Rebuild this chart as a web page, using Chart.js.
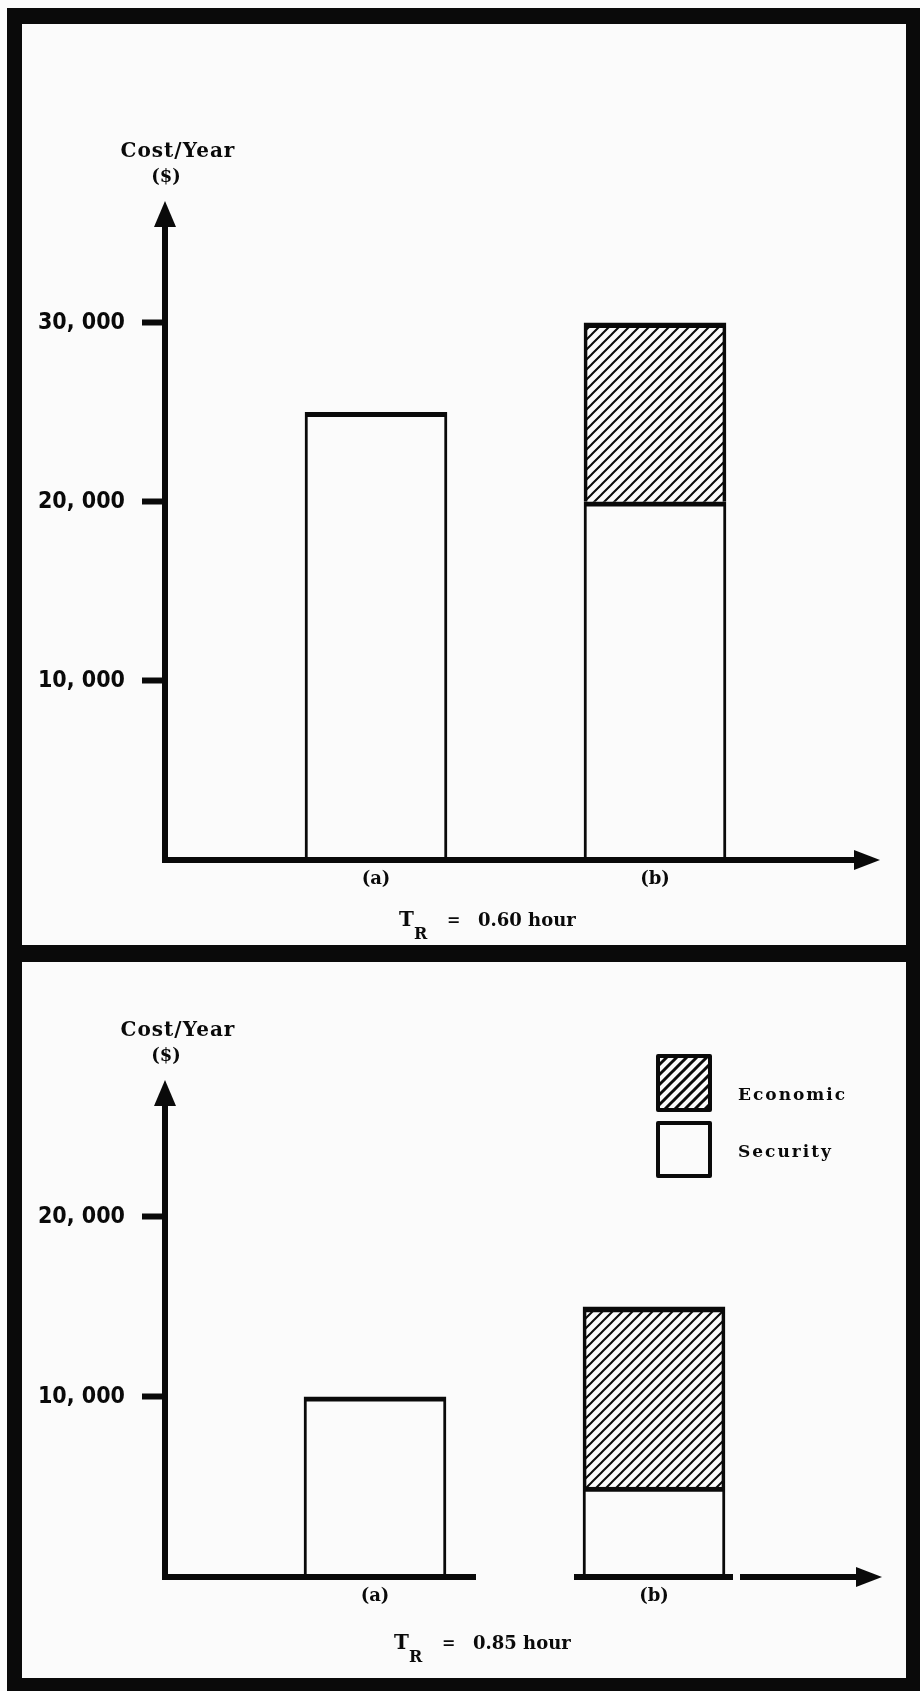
<!DOCTYPE html>
<html>
<head>
<meta charset="utf-8">
<script src="https://cdn.jsdelivr.net/npm/chart.js@4.4.0/dist/chart.umd.min.js"></script>
<style>
  html, body { margin: 0; padding: 0; background: #fbfbfb; }
  body { width: 920px; height: 1691px; position: relative; overflow: hidden; }
  #frame { position: absolute; left: 7px; top: 8px; width: 913px; height: 1683px; background: #0a0a0a; }
  .panel { position: absolute; left: 15px; width: 884px; background: #fbfbfb; }
  #panelTop { top: 16px; height: 921px; }
  #panelBottom { top: 954px; height: 716px; }
  canvas { display: block; }
</style>
</head>
<body>
<div id="frame">
  <div class="panel" id="panelTop"><canvas id="chartTop" width="884" height="921"></canvas></div>
  <div class="panel" id="panelBottom"><canvas id="chartBottom" width="884" height="716"></canvas></div>
</div>
<script>
// values
const categories = ["(a)", "(b)"];
const seriesNames = ["Security", "Economic"];

const securityTop = [25000, 20000];
const economicTop = [0, 10000];
const yTicksTop = [10000, 20000, 30000];
const conditionTop = "0.60 hour";

const securityBottom = [10000, 5000];
const economicBottom = [0, 10000];
const yTicksBottom = [10000, 20000];
const conditionBottom = "0.85 hour";

const INK = "#0a0a0a";
const PAPER = "#fbfbfb";
const SERIF = '"DejaVu Serif", serif';
const SANS = '"DejaVu Sans Condensed", "DejaVu Sans", sans-serif';

function makeHatch(size, width) {
  const c = document.createElement("canvas");
  c.width = size;
  c.height = size;
  const g = c.getContext("2d");
  g.strokeStyle = INK;
  g.lineWidth = width;
  g.lineCap = "square";
  g.beginPath();
  g.moveTo(-1, size + 1); g.lineTo(size + 1, -1);
  g.moveTo(-1, 1); g.lineTo(1, -1);
  g.moveTo(size - 1, size + 1); g.lineTo(size + 1, size - 1);
  g.stroke();
  return g.createPattern(c, "repeat");
}
const hatch = makeHatch(10, 2);

// the print leaves a gap after the comma
const fmt = (v) => v.toLocaleString("en-US").replace(",", ", ");

// axes with arrow heads, the caption over the y axis, the T_R line and the key
const sketchPlugin = {
  id: "sketch",
  afterDatasetsDraw(chart, args, opts) {
    const ctx = chart.ctx;
    const { left, right, top, bottom } = chart.chartArea;
    ctx.save();
    ctx.fillStyle = INK;
    ctx.strokeStyle = INK;
    ctx.lineWidth = 6;

    ctx.beginPath();
    ctx.moveTo(left, bottom + 3);
    ctx.lineTo(left, top + 22);
    ctx.stroke();
    ctx.beginPath();
    ctx.moveTo(left, top);
    ctx.lineTo(left - 11, top + 26);
    ctx.lineTo(left + 11, top + 26);
    ctx.closePath();
    ctx.fill();

    // x axis, keeping the breaks of the print
    let x0 = left - 3;
    const stops = (opts.gaps || []).concat([[right - 22, right - 22]]);
    stops.forEach(([a, b]) => {
      ctx.beginPath();
      ctx.moveTo(x0, bottom);
      ctx.lineTo(a, bottom);
      ctx.stroke();
      x0 = b;
    });
    ctx.beginPath();
    ctx.moveTo(right, bottom);
    ctx.lineTo(right - 26, bottom - 10);
    ctx.lineTo(right - 26, bottom + 10);
    ctx.closePath();
    ctx.fill();

    ctx.textBaseline = "middle";
    ctx.textAlign = "center";
    ctx.font = `bold 20px ${SERIF}`;
    ctx.letterSpacing = "1px";
    ctx.fillText("Cost/Year", left + 13, top - 49);
    ctx.font = `bold 18px ${SERIF}`;
    ctx.letterSpacing = "0px";
    ctx.fillText("($)", left + 1, top - 24);

    const t = opts.title;
    ctx.textAlign = "left";
    ctx.font = `bold 20px ${SERIF}`;
    ctx.fillText("T", t.x, t.y);
    ctx.font = `bold 16px ${SERIF}`;
    ctx.fillText("R", t.x + 15, t.y + 14);
    ctx.fillText("=", t.x + 48, t.y);
    ctx.font = `bold 18px ${SERIF}`;
    ctx.fillText(t.value, t.x + 79, t.y);

    if (opts.key) {
      const k = opts.key;
      ctx.lineWidth = 4;
      ctx.lineJoin = "round";
      ctx.fillStyle = makeHatch(10, 3);
      ctx.fillRect(k.x, k.y, 52, 54);
      ctx.strokeRect(k.x, k.y, 52, 54);
      ctx.fillStyle = PAPER;
      ctx.fillRect(k.x, k.y + 67, 52, 53);
      ctx.strokeRect(k.x, k.y + 67, 52, 53);
      ctx.fillStyle = INK;
      ctx.font = `bold 17px ${SERIF}`;
      ctx.letterSpacing = "2px";
      ctx.fillText(seriesNames[1], k.x + 80, k.y + 40);
      ctx.fillText(seriesNames[0], k.x + 80, k.y + 97);
    }
    ctx.restore();
  }
};

function drawPanel(id, security, economic, yTicks, cfg) {
  const ctx = document.getElementById(id).getContext("2d");
  const bar = {
    borderColor: INK,
    borderWidth: { top: 5, left: 3, right: 3, bottom: 0 },
    barThickness: 142
  };
  return new Chart(ctx, {
    type: "bar",
    data: {
      datasets: [
        Object.assign({
          label: seriesNames[0],
          data: security.map((v, i) => ({ x: i + 1, y: v || null })),
          backgroundColor: PAPER
        }, bar),
        Object.assign({
          label: seriesNames[1],
          data: economic.map((v, i) => ({ x: i + 1, y: v || null })),
          backgroundColor: hatch
        }, bar)
      ]
    },
    options: {
      responsive: false,
      animation: false,
      devicePixelRatio: 1,
      layout: { padding: { left: 0, top: cfg.top, right: cfg.right, bottom: cfg.bottom } },
      scales: {
        x: {
          type: "linear",
          stacked: true,
          offset: false,
          min: cfg.xMin,
          max: cfg.xMax,
          afterFit: (s) => { s.height = 40; },
          afterBuildTicks: (s) => { s.ticks = categories.map((c, i) => ({ value: i + 1 })); },
          grid: { display: false, drawTicks: false },
          border: { display: false },
          ticks: {
            autoSkip: false,
            maxRotation: 0,
            padding: 9,
            color: INK,
            font: { family: SERIF, size: 18, weight: "bold" },
            callback: (v) => categories[v - 1]
          }
        },
        y: {
          stacked: true,
          min: 0,
          max: cfg.yMax,
          afterFit: (s) => { s.width = 143; },
          afterBuildTicks: (s) => { s.ticks = yTicks.map((v) => ({ value: v })); },
          grid: {
            drawOnChartArea: false,
            drawTicks: true,
            tickLength: 23,
            tickWidth: 6,
            tickColor: INK
          },
          border: { display: false },
          ticks: {
            padding: 17,
            color: INK,
            font: { family: SANS, size: 23, weight: "bold" },
            callback: (v) => fmt(v)
          }
        }
      },
      plugins: {
        legend: { display: false },
        tooltip: { enabled: false },
        sketch: { title: cfg.title, key: cfg.key, gaps: cfg.gaps }
      }
    },
    plugins: [sketchPlugin]
  });
}

drawPanel("chartTop", securityTop, economicTop, yTicksTop, {
  top: 177, right: 26, bottom: 45,
  yMax: 36800, xMin: 0.2437, xMax: 2.8065,
  title: { x: 377, y: 897, value: conditionTop }
});

drawPanel("chartBottom", securityBottom, economicBottom, yTicksBottom, {
  top: 118, right: 24, bottom: 61,
  yMax: 27600, xMin: 0.2473, xMax: 2.8172,
  title: { x: 372, y: 682, value: conditionBottom },
  key: { x: 636, y: 94 },
  gaps: [[454, 552], [711, 718]]
});
</script>
</body>
</html>
